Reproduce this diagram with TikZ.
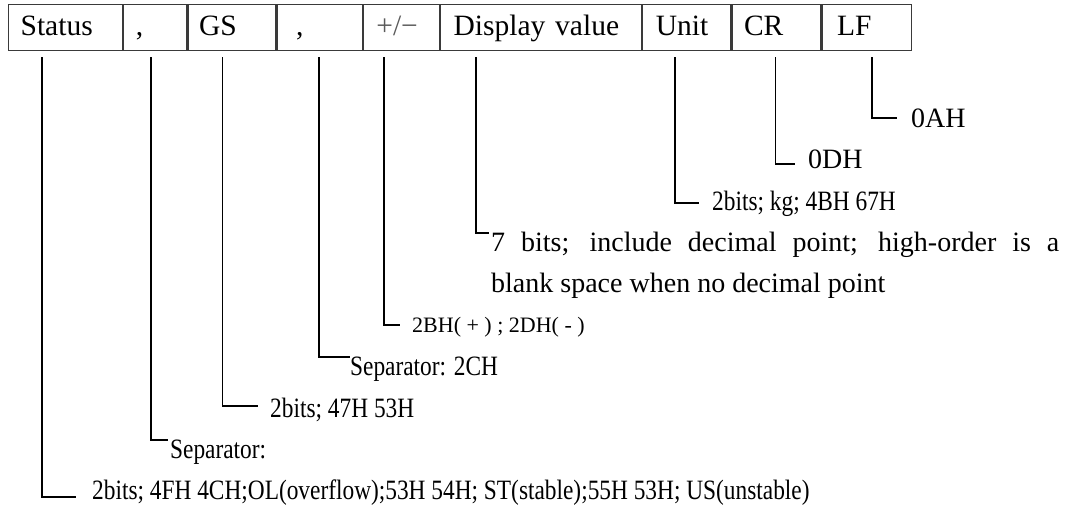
\documentclass[tikz,border=0pt]{standalone}
\usepackage{fontspec}
\setmainfont{Liberation Serif}
\newfontfamily\notefont[FakeStretch=0.834]{Liberation Serif}
\definecolor{tabline}{HTML}{3A3A3A}
\definecolor{signgray}{HTML}{5A5A5A}
\newcommand{\sizedfont}[1]{\fontsize{#1}{#1}\selectfont}
\begin{document}
\begin{tikzpicture}[x=1pt, y=-1pt,
  cell/.style={draw=tabline, line width=1.2pt, anchor=north west,
    inner xsep=0pt, inner ysep=0pt, minimum height=46pt,
    text width=#1, align=left, text height=20pt, text depth=4pt,
    font=\sizedfont{29.5}},
  lead/.style={line width=1.8pt},
  note/.style={anchor=base west, inner sep=0pt, font=\notefont\sizedfont{28}},
  widenote/.style={anchor=base west, inner sep=0pt, font=\sizedfont{28}}]
\useasboundingbox (0,0) rectangle (1068,512);

% frame layout: one cell per field
\node[cell=114pt] (status) at (8,4) {\hspace*{12pt}Status};
\node[cell=63pt]  (comA)   at (status.north east) {\hspace*{12pt},};
\node[cell=88pt]  (gs)     at (comA.north east)   {\hspace*{11pt}GS};
\node[cell=85pt]  (comB)   at (gs.north east)     {\hspace*{19pt},};
\node[cell=76pt]  (sign)   at (comB.north east)   {\hspace*{13pt}\textcolor{signgray}{+/−}};
\node[cell=201pt] (disp)   at (sign.north east)   {\hspace*{13pt}Display value};
\node[cell=88pt]  (unit)   at (disp.north east)   {\hspace*{13pt}Unit};
\node[cell=89pt]  (cr)     at (unit.north east)   {\hspace*{12pt}CR};
\node[cell=89pt]  (lf)     at (cr.north east)     {\hspace*{15pt}LF};

% field descriptions
\node[widenote] (tLF)  at (911,127.3) {0AH};
\node[widenote] (tCR)  at (808,168.7) {0DH};
\node[note] (tUnit)    at (712,210.1) {2bits; kg; 4BH 67H};
\node[widenote] (tDisp) at (491,251.5) {\makebox[568pt][s]{7 bits; include decimal point; high-order is a}};
\node[widenote] (tDispB) at ([yshift=-41.4pt]tDisp.base west) {blank space when no decimal point};
\node[note, font=\sizedfont{22}] (tSign) at (412,332.3) {2BH( + ) ; 2DH( - )};
\node[note] (tComB)    at (350,375.7) {Separator: 2CH};
\node[note] (tGS)      at (270,417.1) {2bits; 47H 53H};
\node[note] (tComA)    at (170,458.5) {Separator:};
\node[note] (tStatus)  at (92,499.9)  {2bits; 4FH 4CH;OL(overflow);53H 54H; ST(stable);55H 53H; US(unstable)};

% leader lines from each field to its description
\draw[lead] ([xshift=50pt,yshift=-6pt]lf.south west)     |- ([xshift=-14pt,yshift=9.3pt]tLF.base west);
\draw[lead] ([xshift=44pt,yshift=-6pt]cr.south west)     |- ([xshift=-13pt,yshift=4.7pt]tCR.base west);
\draw[lead] ([xshift=33pt,yshift=-6pt]unit.south west)   |- ([xshift=-13pt,yshift=7.1pt]tUnit.base west);
\draw[lead] ([xshift=36pt,yshift=-6pt]disp.south west)   |- ([xshift=-2pt,yshift=18.5pt]tDisp.base west);
\draw[lead] ([xshift=21pt,yshift=-6pt]sign.south west)   |- ([xshift=-12pt,yshift=7.3pt]tSign.base west);
\draw[lead] ([xshift=42pt,yshift=-6pt]comB.south west)   |- ([yshift=18.7pt]tComB.base west);
\draw[lead] ([xshift=35pt,yshift=-6pt]gs.south west)     |- ([xshift=-12pt,yshift=11.1pt]tGS.base west);
\draw[lead] ([xshift=28pt,yshift=-6pt]comA.south west)   |- ([xshift=-2pt,yshift=18.5pt]tComA.base west);
\draw[lead] ([xshift=34pt,yshift=-6pt]status.south west) |- ([xshift=-16pt,yshift=2.9pt]tStatus.base west);
\end{tikzpicture}
\end{document}
